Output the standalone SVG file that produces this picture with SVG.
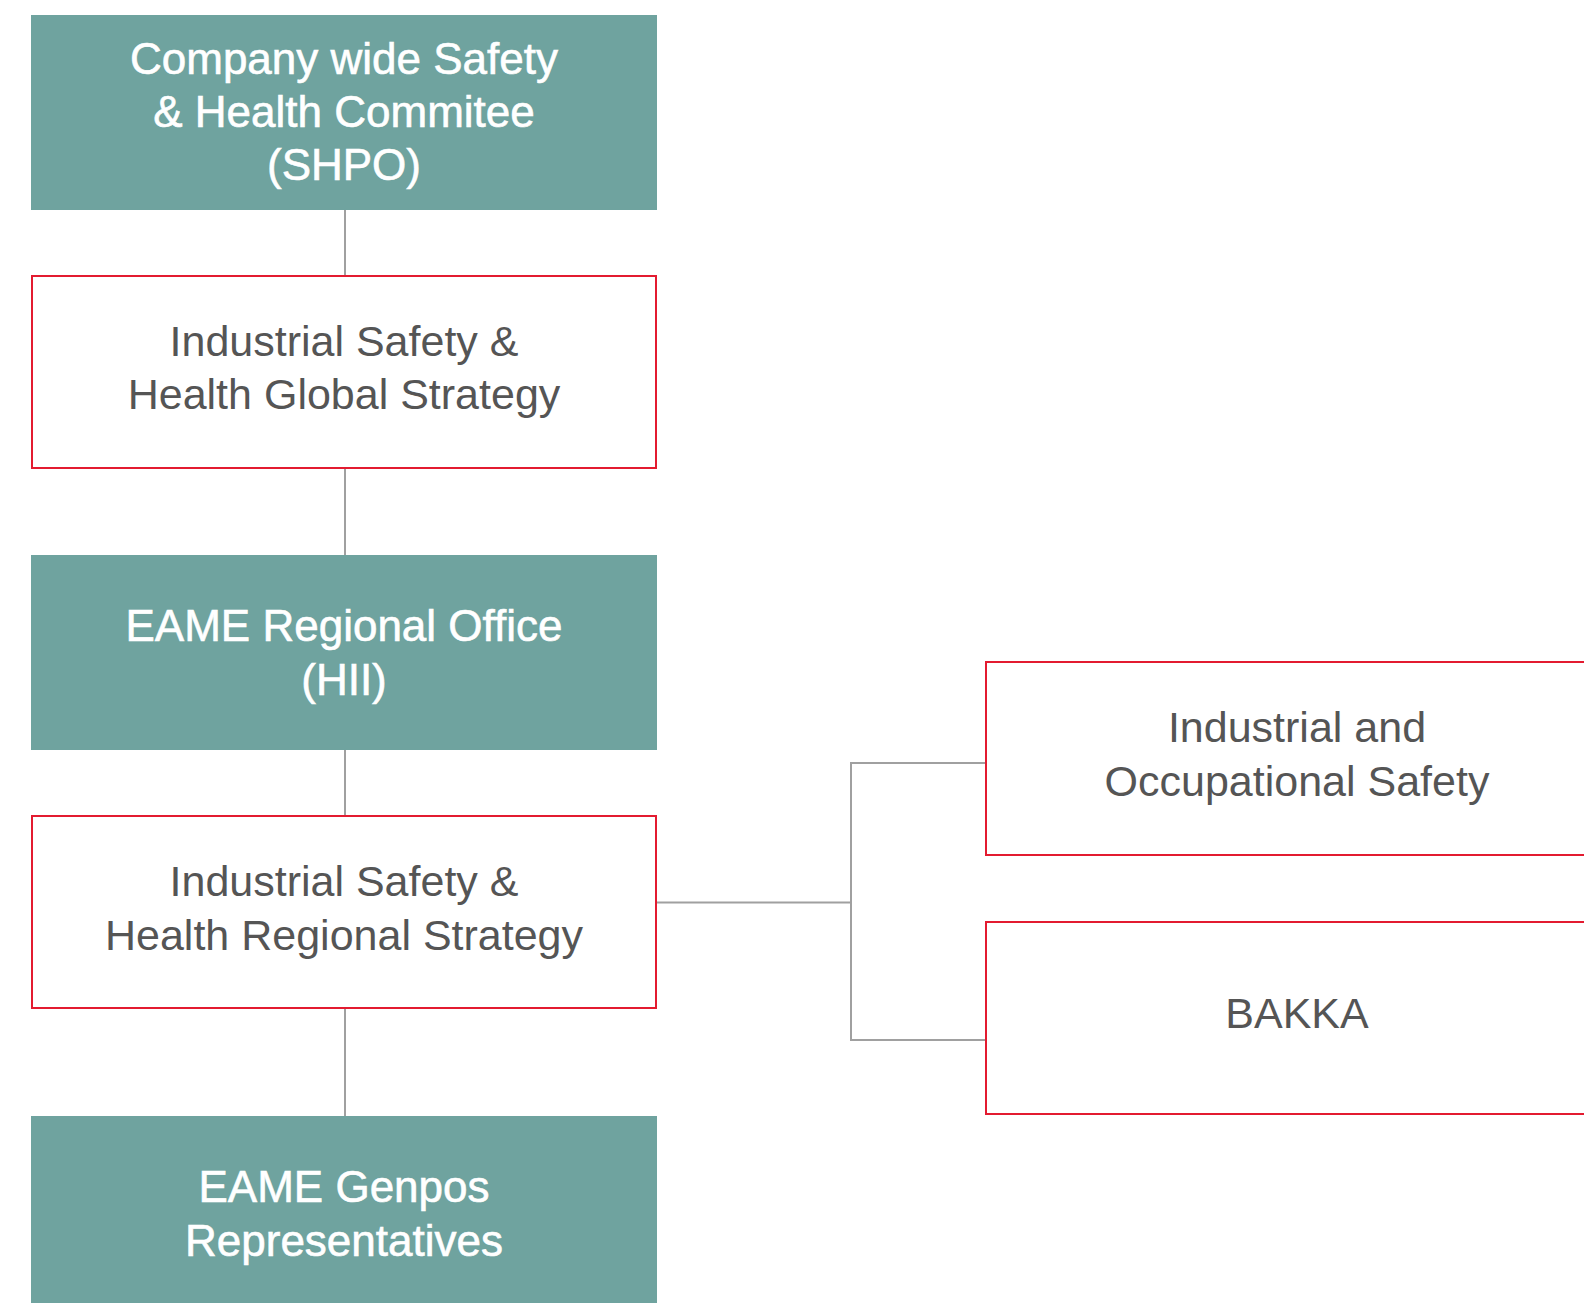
<svg xmlns="http://www.w3.org/2000/svg" width="1584" height="1303" viewBox="0 0 1584 1303">
<style>
.teal{fill:#6fa39f;}
.red{fill:#ffffff;stroke:#e31b30;stroke-width:2;}
.wt{font-family:"Liberation Sans",Arial,sans-serif;font-size:44px;fill:#ffffff;stroke:#ffffff;stroke-width:0.6;text-anchor:middle;}
.gt{font-family:"Liberation Sans",Arial,sans-serif;font-size:43px;fill:#555555;text-anchor:middle;}
.conn{fill:none;stroke:#a0a0a0;stroke-width:2;}
</style>
<rect width="1584" height="1303" fill="#ffffff"/>
<g id="connectors">
<path class="conn" d="M345 209 V275"/>
<path class="conn" d="M345 469 V555"/>
<path class="conn" d="M345 750 V815"/>
<path class="conn" d="M345 1009 V1116"/>
<path class="conn" d="M657 902.5 H851"/>
<path class="conn" d="M985 763 H851 V1040 H985"/>
</g>
<g id="node-shpo">
<rect class="teal" x="31" y="15" width="626" height="195"/>
<text class="wt" x="344" y="74">Company wide Safety</text>
<text class="wt" x="344" y="127">&amp; Health Commitee</text>
<text class="wt" x="344" y="180">(SHPO)</text>
</g>
<g id="node-global">
<rect class="red" x="32" y="276" width="624" height="192"/>
<text class="gt" x="344" y="356">Industrial Safety &amp;</text>
<text class="gt" x="344" y="409">Health Global Strategy</text>
</g>
<g id="node-eame-office">
<rect class="teal" x="31" y="555" width="626" height="195"/>
<text class="wt" x="344" y="641">EAME Regional Office</text>
<text class="wt" x="344" y="695">(HII)</text>
</g>
<g id="node-regional">
<rect class="red" x="32" y="816" width="624" height="192"/>
<text class="gt" x="344" y="896">Industrial Safety &amp;</text>
<text class="gt" x="344" y="950">Health Regional Strategy</text>
</g>
<g id="node-genpos">
<rect class="teal" x="31" y="1116" width="626" height="200"/>
<text class="wt" x="344" y="1202">EAME Genpos</text>
<text class="wt" x="344" y="1256">Representatives</text>
</g>
<g id="node-occupational">
<rect class="red" x="986" y="662" width="624" height="193"/>
<text class="gt" x="1297" y="742">Industrial and</text>
<text class="gt" x="1297" y="796">Occupational Safety</text>
</g>
<g id="node-bakka">
<rect class="red" x="986" y="922" width="624" height="192"/>
<text class="gt" x="1297" y="1028">BAKKA</text>
</g>
</svg>
